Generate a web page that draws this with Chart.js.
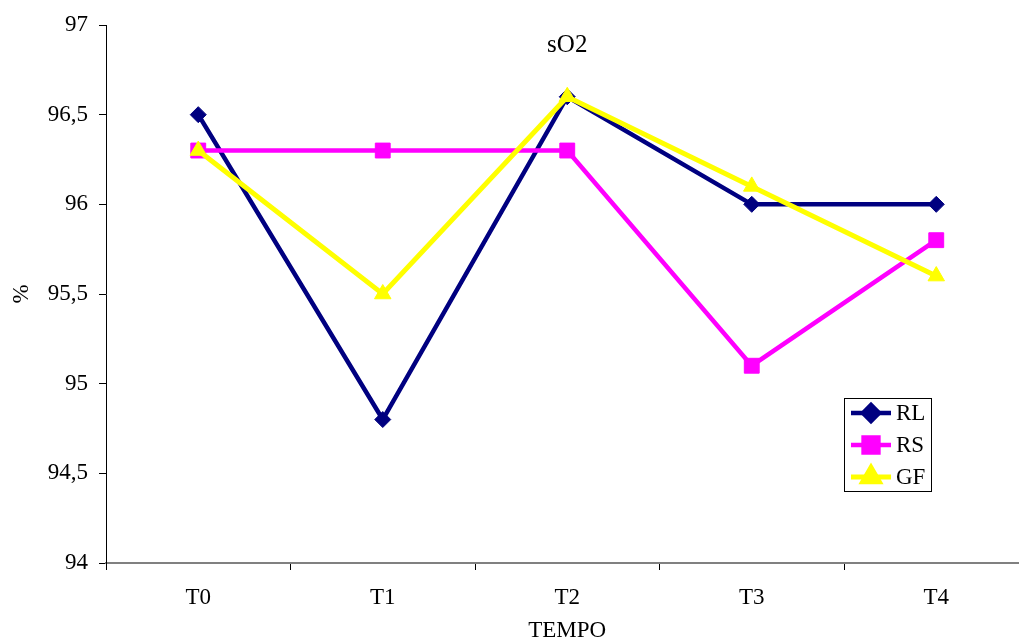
<!DOCTYPE html>
<html>
<head>
<meta charset="utf-8">
<script src="https://cdn.jsdelivr.net/npm/chart.js@4.4.0/dist/chart.umd.min.js"></script>
<style>
html,body{margin:0;padding:0;background:#fff;overflow:hidden;}
canvas{display:block;}
</style>
</head>
<body>
<canvas id="c" width="1040" height="643"></canvas>
<script>
const categories = ['T0', 'T1', 'T2', 'T3', 'T4'];
const seriesNames = ['RL', 'RS', 'GF'];
const rlValues = [96.5, 94.8, 96.6, 96.0, 96.0];
const rsValues = [96.3, 96.3, 96.3, 95.1, 95.8];
const gfValues = [96.3, 95.5, 96.6, 96.1, 95.6];
const yTickLabels = ['94', '94,5', '95', '95,5', '96', '96,5', '97'];
const chartTitle = 'sO2';
const xTitle = 'TEMPO';
const yTitle = '%';

const FONT = "'Liberation Serif', 'Times New Roman', serif";

const titlePlugin = {
  id: 'insideTitle',
  afterDatasetsDraw(chart) {
    const ctx = chart.ctx, a = chart.chartArea;
    ctx.save();
    ctx.font = '25px ' + FONT;
    ctx.fillStyle = '#000';
    ctx.textAlign = 'center';
    ctx.textBaseline = 'middle';
    ctx.fillText(chartTitle, (a.left + a.right) / 2, 45);
    ctx.restore();
  }
};

const legendPlugin = {
  id: 'boxLegend',
  afterDatasetsDraw(chart) {
    const ctx = chart.ctx;
    const x0 = 844, y0 = 398, w = 87, h = 93;
    ctx.save();
    ctx.fillStyle = '#fff';
    ctx.fillRect(x0, y0, w, h);
    ctx.strokeStyle = '#000';
    ctx.lineWidth = 1;
    ctx.strokeRect(x0 + 0.5, y0 + 0.5, w, h);
    chart.data.datasets.forEach((ds, i) => {
      const cy = y0 + 15 + i * 32;
      ctx.strokeStyle = ds.borderColor;
      ctx.lineWidth = ds.borderWidth;
      ctx.beginPath();
      ctx.moveTo(851, cy);
      ctx.lineTo(891, cy);
      ctx.stroke();
      ctx.fillStyle = ds.pointBackgroundColor;
      ctx.strokeStyle = ds.pointBorderColor;
      Chart.helpers.drawPoint(ctx, {
        pointStyle: ds.pointStyle,
        radius: ds.pointRadius,
        borderWidth: ds.pointBorderWidth,
        rotation: 0
      }, 871, cy);
      ctx.fillStyle = '#000';
      ctx.font = '23px ' + FONT;
      ctx.textAlign = 'left';
      ctx.textBaseline = 'middle';
      ctx.fillText(ds.label, 896, cy + 1);
    });
    ctx.restore();
  }
};

const mk = (label, data, color, style, radius, width, order) => ({
  label, data,
  borderColor: color,
  backgroundColor: color,
  pointBackgroundColor: color,
  pointBorderColor: color,
  borderWidth: width,
  pointStyle: style,
  pointRadius: radius,
  pointHoverRadius: radius,
  pointBorderWidth: 1,
  tension: 0,
  fill: false,
  order
});

new Chart(document.getElementById('c'), {
  type: 'line',
  data: {
    labels: categories,
    datasets: [
      mk(seriesNames[0], rlValues, '#000080', 'rectRot', 8, 4.5, 3),
      mk(seriesNames[1], rsValues, '#FF00FF', 'rect', 10.5, 4.5, 2),
      mk(seriesNames[2], gfValues, '#FFFF00', 'triangle', 9.5, 5, 1)
    ]
  },
  options: {
    responsive: false,
    animation: false,
    devicePixelRatio: 1,
    layout: { padding: { left: 0, top: 25, right: 11, bottom: 0 } },
    plugins: { legend: { display: false }, tooltip: { enabled: false }, title: { display: false } },
    scales: {
      x: {
        type: 'category',
        offset: true,
        grid: { offset: true, drawOnChartArea: false, drawTicks: true, tickLength: 7, tickColor: '#000', color: '#000' },
        border: { display: true, color: '#808080', width: 2 },
        ticks: { color: '#000', font: { family: FONT, size: 23 }, padding: 14, maxRotation: 0 },
        title: { display: true, text: xTitle, color: '#000', font: { family: FONT, size: 23 }, padding: { top: 0, bottom: -2 } },
        afterFit(s) { s.height = 80; }
      },
      y: {
        min: 94, max: 97,
        ticks: {
          stepSize: 0.5, color: '#000', font: { family: FONT, size: 23 }, padding: 11,
          callback: (v, i) => yTickLabels[i]
        },
        grid: { drawOnChartArea: false, drawTicks: true, tickLength: 7, tickColor: '#000', color: '#000' },
        border: { display: true, color: '#000', width: 1 },
        title: { display: true, text: yTitle, color: '#000', font: { family: FONT, size: 23 }, padding: { top: 8, bottom: 0 } },
        afterFit(s) { s.width = 106; }
      }
    }
  },
  plugins: [titlePlugin, legendPlugin]
});
</script>
</body>
</html>
